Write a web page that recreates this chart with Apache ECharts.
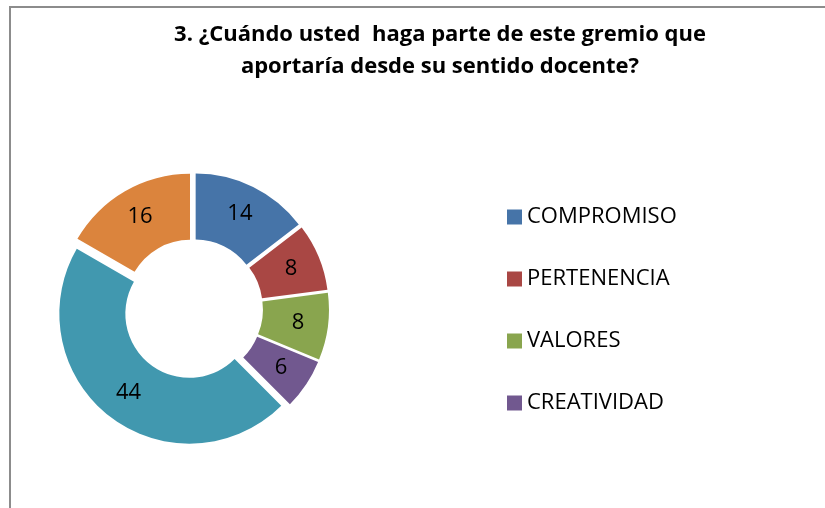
<!DOCTYPE html>
<html>
<head>
<meta charset="utf-8">
<script src="https://cdn.jsdelivr.net/npm/echarts@6/dist/echarts.min.js"></script>
<style>
  html, body { margin: 0; padding: 0; background: #fff; }
  #main { width: 825px; height: 508px; }
</style>
</head>
<body>
<div id="main"></div>
<script>
var categories = ['COMPROMISO', 'PERTENENCIA', 'VALORES', 'CREATIVIDAD', 'OTROS', 'NINGUNO'];
var values = [14, 8, 8, 6, 44, 16];
var colors = ['#4674A8', '#A94744', '#89A54E', '#71588F', '#4198AF', '#DB843D'];
// la leyenda del original solo muestra las 4 primeras
var legendNames = categories.slice(0, 4);

var myChart = echarts.init(document.getElementById('main'));

var option = {
    animation: false,
    title: {
        text: '3. ¿Cuándo usted  haga parte de este gremio que\naportaría desde su sentido docente?',
        left: 435,
        top: 14,
        textAlign: 'center',
        textStyle: {
            fontFamily: 'Open Sans',
            fontWeight: 'bold',
            fontSize: 22,
            lineHeight: 32,
            color: '#000'
        }
    },
    legend: {
        data: legendNames,
        orient: 'vertical',
        left: 502,
        top: 201,
        itemWidth: 15,
        itemHeight: 15,
        itemGap: 40,
        icon: 'rect',
        selectedMode: false,
        textStyle: {
            fontFamily: 'Open Sans',
            fontSize: 22,
            lineHeight: 22,
            color: '#000'
        }
    },
    graphic: [{
        type: 'polyline',
        shape: { points: [[10, 508], [10, 7], [825, 7]] },
        style: { stroke: '#8c8c8c', lineWidth: 2, fill: null }
    }],
    series: [{
        type: 'pie',
        center: [193, 309],
        radius: [64, 130],
        startAngle: 90,
        clockwise: true,
        selectedMode: 'multiple',
        selectedOffset: 6,
        emphasis: { disabled: true },
        label: {
            position: 'inside',
            formatter: '{c}',
            fontFamily: 'Open Sans',
            fontSize: 22,
            color: '#000'
        },
        labelLine: { show: false },
        data: categories.map(function (name, i) {
            return {
                name: name,
                value: values[i],
                selected: true,
                itemStyle: { color: colors[i] }
            };
        })
    }]
};

myChart.setOption(option);
</script>
</body>
</html>
